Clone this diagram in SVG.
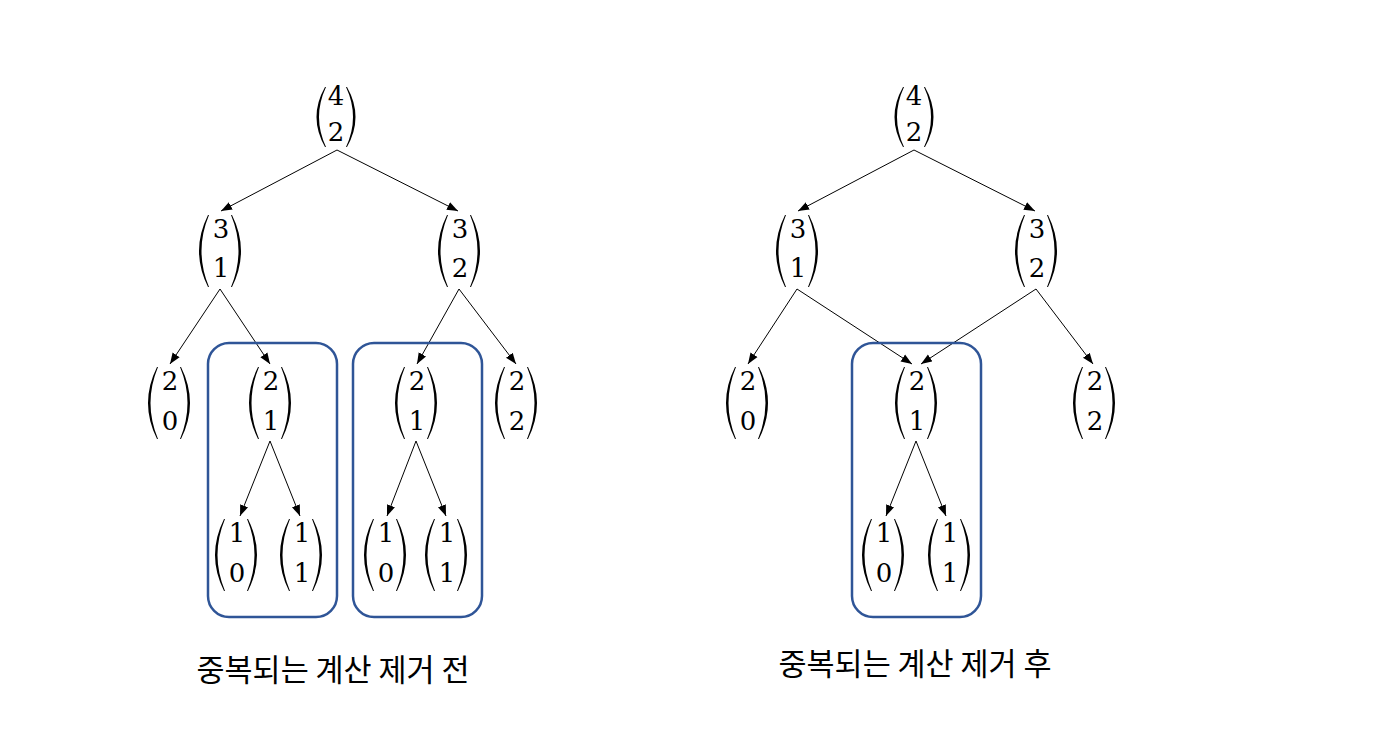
<svg xmlns="http://www.w3.org/2000/svg" xmlns:xlink="http://www.w3.org/1999/xlink" width="1379" height="752" viewBox="0 0 1379 752">
<style>
.d{font-family:"DejaVu Serif","Liberation Serif",serif;font-size:26px;fill:#000;text-anchor:middle}
.c{stroke:#000;stroke-width:1;fill:none;marker-end:url(#ah)}
.box{fill:none;stroke:#2F5597;stroke-width:2.5}
.cap{font-family:"Noto Sans CJK KR","Noto Sans",sans-serif;font-size:30.5px;fill:#000;text-anchor:middle}
.p{fill:#000}
</style>
<defs>
<marker id="ah" markerUnits="userSpaceOnUse" markerWidth="12" markerHeight="10" viewBox="0 0 12 10" refX="11" refY="5" orient="auto">
<path d="M0,0.8 L11,5 L0,9.2 Z" fill="#000"/>
</marker>
<g id="p70">
<path class="p" d="M-11,0 L-12,0 Q-30,36 -12,72 L-11,72 Q-26,36 -11,0 Z"/>
<path class="p" d="M11,0 L12,0 Q30,36 12,72 L11,72 Q26,36 11,0 Z"/>
</g>
<g id="p60">
<path class="p" d="M-10,0 L-11,0 Q-28,30 -11,60 L-10,60 Q-24,30 -10,0 Z"/>
<path class="p" d="M10,0 L11,0 Q28,30 11,60 L10,60 Q24,30 10,0 Z"/>
</g>
</defs>
<rect width="1379" height="752" fill="#fff"/>

<g id="connectors">
<line class="c" x1="337" y1="150" x2="221" y2="211"/>
<line class="c" x1="337" y1="150" x2="458" y2="211"/>
<line class="c" x1="220" y1="289" x2="170" y2="364"/>
<line class="c" x1="220" y1="289" x2="270" y2="364"/>
<line class="c" x1="459" y1="289" x2="417" y2="364"/>
<line class="c" x1="459" y1="289" x2="516" y2="364"/>
<line class="c" x1="270" y1="441" x2="240" y2="516"/>
<line class="c" x1="270" y1="441" x2="300" y2="516"/>
<line class="c" x1="416" y1="441" x2="387" y2="516"/>
<line class="c" x1="416" y1="441" x2="446" y2="516"/>
<line class="c" x1="914" y1="150" x2="798" y2="211"/>
<line class="c" x1="914" y1="150" x2="1035" y2="211"/>
<line class="c" x1="797" y1="289" x2="748" y2="364"/>
<line class="c" x1="797" y1="289" x2="912" y2="364"/>
<line class="c" x1="1036" y1="289" x2="921" y2="364"/>
<line class="c" x1="1036" y1="289" x2="1093" y2="364"/>
<line class="c" x1="916" y1="441" x2="886" y2="516"/>
<line class="c" x1="916" y1="441" x2="946" y2="516"/>
</g>

<g id="boxes">
<rect class="box" x="208" y="343" width="129" height="274" rx="21"/>
<rect class="box" x="353" y="343" width="129" height="274" rx="21"/>
<rect class="box" x="852" y="343" width="129" height="274" rx="21"/>
</g>

<g id="L42"><use xlink:href="#p60" x="336" y="87"/><text class="d" x="336" y="105">4</text><text class="d" x="336" y="141">2</text></g>
<g id="L31"><use xlink:href="#p70" x="220" y="215"/><text class="d" x="221" y="238">3</text><text class="d" x="221" y="277">1</text></g>
<g id="L32"><use xlink:href="#p70" x="459" y="215"/><text class="d" x="460" y="238">3</text><text class="d" x="460" y="277">2</text></g>
<g id="L20"><use xlink:href="#p70" x="169" y="367"/><text class="d" x="170" y="390">2</text><text class="d" x="170" y="430">0</text></g>
<g id="L21a"><use xlink:href="#p70" x="270" y="367"/><text class="d" x="271" y="390">2</text><text class="d" x="271" y="430">1</text></g>
<g id="L21b"><use xlink:href="#p70" x="416" y="367"/><text class="d" x="417" y="390">2</text><text class="d" x="417" y="430">1</text></g>
<g id="L22"><use xlink:href="#p70" x="516" y="367"/><text class="d" x="517" y="390">2</text><text class="d" x="517" y="430">2</text></g>
<g id="L10a"><use xlink:href="#p70" x="236" y="519"/><text class="d" x="237" y="542">1</text><text class="d" x="237" y="582">0</text></g>
<g id="L11a"><use xlink:href="#p70" x="301" y="519"/><text class="d" x="302" y="542">1</text><text class="d" x="302" y="582">1</text></g>
<g id="L10b"><use xlink:href="#p70" x="385" y="519"/><text class="d" x="386" y="542">1</text><text class="d" x="386" y="582">0</text></g>
<g id="L11b"><use xlink:href="#p70" x="446" y="519"/><text class="d" x="447" y="542">1</text><text class="d" x="447" y="582">1</text></g>

<g id="R42"><use xlink:href="#p60" x="914" y="87"/><text class="d" x="914" y="105">4</text><text class="d" x="914" y="141">2</text></g>
<g id="R31"><use xlink:href="#p70" x="797" y="215"/><text class="d" x="798" y="238">3</text><text class="d" x="798" y="277">1</text></g>
<g id="R32"><use xlink:href="#p70" x="1036" y="215"/><text class="d" x="1037" y="238">3</text><text class="d" x="1037" y="277">2</text></g>
<g id="R20"><use xlink:href="#p70" x="747" y="367"/><text class="d" x="748" y="390">2</text><text class="d" x="748" y="430">0</text></g>
<g id="R21"><use xlink:href="#p70" x="916" y="367"/><text class="d" x="917" y="390">2</text><text class="d" x="917" y="430">1</text></g>
<g id="R22"><use xlink:href="#p70" x="1094" y="367"/><text class="d" x="1095" y="390">2</text><text class="d" x="1095" y="430">2</text></g>
<g id="R10"><use xlink:href="#p70" x="883" y="519"/><text class="d" x="884" y="542">1</text><text class="d" x="884" y="582">0</text></g>
<g id="R11"><use xlink:href="#p70" x="949" y="519"/><text class="d" x="950" y="542">1</text><text class="d" x="950" y="582">1</text></g>

<g id="captions">
<text class="cap" x="333" y="681">중복되는 계산 제거 전</text>
<text class="cap" x="915" y="675">중복되는 계산 제거 후</text>
</g>
</svg>
